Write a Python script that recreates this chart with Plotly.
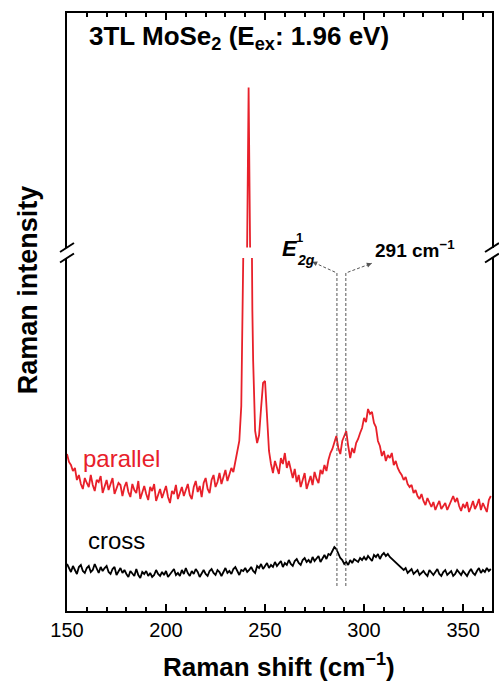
import numpy as np
import plotly.graph_objects as go

# ---------------- data ----------------
# parallel spectrum: baseline left of the main peak (150..239 cm^-1)
par_left_y = [157, 149, 146, 140, 143, 131, 136, 127, 122, 133,
              128, 124, 136, 126, 120, 131, 129, 135, 118, 125,
              131, 121, 127, 133, 117, 122, 128, 126, 115, 124,
              129, 119, 114, 127, 121, 118, 130, 112, 119, 125,
              117, 111, 124, 120, 127, 110, 116, 122, 113, 119,
              125, 114, 108, 120, 117, 126, 112, 118, 124, 115,
              121, 127, 116, 112, 124, 130, 119, 125, 114, 128,
              133, 122, 118, 131, 136, 124, 129, 138, 127, 133,
              141, 130, 137, 143, 139, 149, 158, 170, 205, 280]
# main peak + 250 cm^-1 shoulder
par_peak_x = [239.6, 240.1, 240.9, 241.7, 242.5, 243.2, 243.6,
              244, 245, 246, 247, 248, 249, 250, 251, 252, 253]
par_peak_y = [330, 370, 590, 760, 590, 370, 300,
              250, 180, 168, 176, 203, 228, 230, 192, 160, 147]
# right part (254..364 cm^-1)
par_right_y = [138, 150, 144, 137, 153, 147, 158, 143, 150, 141,
               133, 142, 129, 136, 124, 131, 138, 122, 129, 135,
               126, 139, 132, 128, 141, 137, 146, 140, 151, 158,
               162, 170, 175, 163, 157, 170, 175, 180, 165, 153,
               163, 158, 168, 172, 178, 183, 193, 189, 202, 197,
               199, 188, 184, 170, 165, 155, 160, 150, 156, 153,
               158, 146, 150, 143, 139, 136, 131, 134, 127, 124,
               126, 118, 121, 115, 112, 117, 110, 106, 113, 108,
               104, 109, 101, 106, 110, 102, 105, 108, 101, 106,
               111, 115, 109, 113, 105, 100, 107, 103, 109, 99,
               104, 110, 102, 106, 112, 101, 108, 104, 99, 111,
               115]

par_x = list(range(150, 240)) + par_peak_x + list(range(254, 365))
par_y = par_left_y + par_peak_y + par_right_y

cross_x = list(range(150, 365))
cross_y = [47, 42, 39, 45, 41, 37, 44, 46, 40, 38,
           43, 45, 39, 41, 47, 42, 38, 44, 40, 43,
           45, 39, 37, 42, 44, 36, 40, 43, 38, 41,
           37, 34, 40, 38, 35, 42, 36, 33, 39, 37,
           40, 35, 38, 34, 36, 41, 37, 35, 39, 36,
           40, 34, 37, 39, 42, 36, 38, 35, 41, 37,
           43, 38, 35, 40, 37, 42, 39, 34, 38, 41,
           37, 35, 40, 42, 38, 36, 41, 39, 35, 40,
           43, 38, 40, 37, 42, 44, 39, 36, 41, 40,
           43, 39, 41, 44, 40, 38, 45, 43, 47, 42,
           45, 48, 43, 46, 44, 49, 45, 47, 50, 44,
           48, 46, 51, 47, 45, 50, 52, 48, 46, 51,
           53, 49, 51, 48, 54, 50, 52, 55, 49, 53,
           56, 52, 57, 56, 61, 64, 62, 58, 53, 51,
           47, 49, 46, 51, 48, 52, 50, 49, 53, 51,
           54, 51, 55, 53, 50, 56, 54, 57, 52, 56,
           58, 55, 57, 54, 52, 51, 48, 46, 44, 43,
           41, 43, 38, 40, 42, 37, 39, 41, 36, 38,
           40, 37, 35, 41, 38, 36, 39, 42, 37, 35,
           39, 41, 36, 38, 40, 35, 37, 41, 38, 36,
           40, 37, 35, 39, 42, 38, 36, 40, 43, 38,
           41, 39, 43, 40, 42]

# mode markers (cm^-1)
e2g_pos = 286.3
mode291_pos = 290.8

x_ticks = [150, 200, 250, 300, 350]

# ---------------- layout helpers ----------------
W, H = 499, 681
L, R, T, B = 67, 494, 13, 611          # plot box in pixels
def px(x):  # pixel -> paper x
    return (x - L) / (R - L)
def py(y):  # pixel -> paper y
    return (B - y) / (B - T)

lower_dom = [0, py(258)]
upper_dom = [py(247.5), 1]

RED = "#e8202a"
FONT = "Arial, Liberation Sans, sans-serif"

fig = go.Figure()
fig.add_trace(go.Scatter(x=par_x, y=par_y, mode="lines", line=dict(color=RED, width=1.8),
                         xaxis="x", yaxis="y", showlegend=False))
fig.add_trace(go.Scatter(x=cross_x, y=cross_y, mode="lines", line=dict(color="black", width=1.8),
                         xaxis="x", yaxis="y", showlegend=False))
fig.add_trace(go.Scatter(x=par_x, y=par_y, mode="lines", line=dict(color=RED, width=1.8),
                         xaxis="x2", yaxis="y2", showlegend=False))

fig.add_trace(go.Scatter(x=[e2g_pos, e2g_pos, 273.8], y=[25, 338, 349.3], mode="lines",
                         line=dict(color="#555", width=1, dash="3px,2px"),
                         xaxis="x", yaxis="y", showlegend=False))
fig.add_trace(go.Scatter(x=[mode291_pos, mode291_pos, 303.9], y=[25, 338, 347.7], mode="lines",
                         line=dict(color="#555", width=1, dash="3px,2px"),
                         xaxis="x", yaxis="y", showlegend=False))

common_x = dict(range=[150, 364.6], tick0=150, dtick=50, ticks="inside", ticklen=7,
                tickwidth=1.5, tickcolor="black", showline=True, linewidth=2,
                linecolor="black", showgrid=False, zeroline=False,
                minor=dict(dtick=10, ticks="inside", ticklen=4, tickwidth=1.5,
                           tickcolor="black", showgrid=False))
fig.update_layout(
    width=W, height=H, autosize=False,
    margin=dict(l=L, r=W - R, t=T, b=H - B, pad=0),
    paper_bgcolor="white", plot_bgcolor="white",
    font=dict(family=FONT, color="black"),
    xaxis=dict(**common_x, anchor="y", side="bottom", tickvals=x_ticks,
               tickfont=dict(size=20, family=FONT)),
    xaxis2=dict(**common_x, anchor="y2", side="top", matches="x", showticklabels=False),
    yaxis=dict(domain=lower_dom, range=[0, 353], showticklabels=False, ticks="",
               showline=True, mirror=True, linewidth=2, linecolor="black",
               showgrid=False, zeroline=False),
    yaxis2=dict(domain=upper_dom, range=[600, 834.5], showticklabels=False, ticks="",
                showline=True, mirror=True, linewidth=2, linecolor="black",
                showgrid=False, zeroline=False),
)

shapes = []
for xc in (L, R):
    for yc in (247.5, 258):
        shapes.append(dict(type="line", xref="paper", yref="paper",
                           x0=px(xc - 7), y0=py(yc + 4.5), x1=px(xc + 7), y1=py(yc - 4.5),
                           line=dict(color="black", width=2), layer="above"))
fig.update_layout(shapes=shapes)

ann = []
ann.append(dict(x=273.8, y=349.3, xref="x", yref="y", ax=6, ay=2.6, text="",
                showarrow=True, arrowhead=2, arrowsize=1, arrowwidth=1, arrowcolor="#555"))
ann.append(dict(x=303.9, y=347.7, xref="x", yref="y", ax=-6, ay=2.3, text="",
                showarrow=True, arrowhead=2, arrowsize=1, arrowwidth=1, arrowcolor="#555"))
ann.append(dict(x=px(87), y=py(37.5), xref="paper", yref="paper", xanchor="left", yanchor="middle",
                text="<b>3TL MoSe<sub>2</sub> (E<sub>ex</sub>: 1.96 eV)</b>", showarrow=False,
                font=dict(size=26, family=FONT)))
ann.append(dict(x=px(81), y=py(459), xref="paper", yref="paper", xanchor="left", yanchor="middle",
                text="parallel", showarrow=False, font=dict(size=24, color=RED, family=FONT)))
ann.append(dict(x=px(86), y=py(540), xref="paper", yref="paper", xanchor="left", yanchor="middle",
                text="cross", showarrow=False, font=dict(size=24, color="black", family=FONT)))
ann.append(dict(x=px(281), y=py(249), xref="paper", yref="paper", xanchor="left", yanchor="middle",
                text="<b><i>E</i></b>", showarrow=False, font=dict(size=22, family=FONT)))
ann.append(dict(x=px(295), y=py(238), xref="paper", yref="paper", xanchor="left", yanchor="middle",
                text="<b>1</b>", showarrow=False, font=dict(size=13, family=FONT)))
ann.append(dict(x=px(296), y=py(260), xref="paper", yref="paper", xanchor="left", yanchor="middle",
                text="<b><i>2g</i></b>", showarrow=False, font=dict(size=14, family=FONT)))
ann.append(dict(x=px(374), y=py(249), xref="paper", yref="paper", xanchor="left", yanchor="middle",
                text="<b>291 cm<sup>\u22121</sup></b>", showarrow=False, font=dict(size=19, family=FONT)))
ann.append(dict(x=px(28), y=py(290), xref="paper", yref="paper", xanchor="center", yanchor="middle",
                text="<b>Raman intensity</b>", textangle=-90, showarrow=False,
                font=dict(size=27, family=FONT)))
ann.append(dict(x=px(280), y=py(665), xref="paper", yref="paper", xanchor="center", yanchor="middle",
                text="<b>Raman shift (cm<sup>\u22121</sup>)</b>", showarrow=False,
                font=dict(size=26, family=FONT)))
fig.update_layout(annotations=ann)

fig.write_html("out.html")
